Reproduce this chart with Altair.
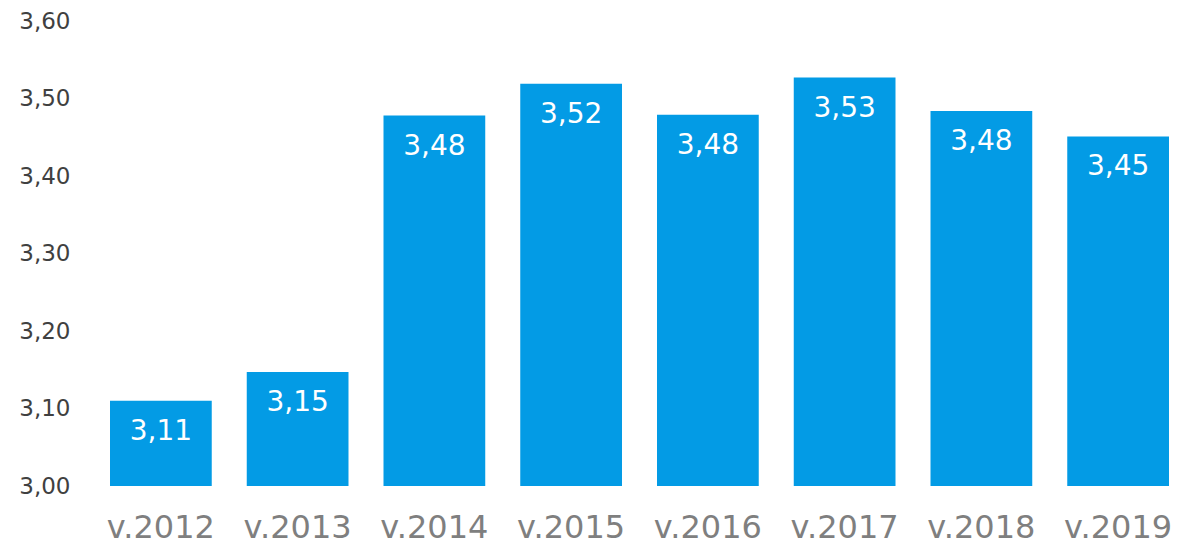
import altair as alt
import pandas as pd

years = ["v.2012", "v.2013", "v.2014", "v.2015", "v.2016", "v.2017", "v.2018", "v.2019"]
values = [3.11, 3.147, 3.478, 3.519, 3.479, 3.527, 3.484, 3.451]
labels = [f"{v:.2f}".replace(".", ",") for v in values]

df = pd.DataFrame({"year": years, "value": values, "label": labels})

FONT = "DejaVu Sans"

x = alt.X("year:N", sort=years, title=None,
          scale=alt.Scale(paddingInner=0.256, paddingOuter=0),
          axis=alt.Axis(labelAngle=0, labelFontSize=32, labelColor="#7f7f7f", labelFont=FONT,
                        labelPadding=26, labelBaseline="top", domain=False, ticks=False, grid=False))
y = alt.Y("value:Q", title=None,
          scale=alt.Scale(domain=[3.0, 3.6], zero=False, nice=False),
          axis=alt.Axis(values=[3.0, 3.1, 3.2, 3.3, 3.4, 3.5, 3.6],
                        labelExpr="replace(format(datum.value, '.2f'), '.', ',')",
                        labelFontSize=23, labelColor="#404040", labelFont=FONT,
                        labelPadding=40, domain=False, ticks=False, grid=False))

bars = alt.Chart(df).mark_bar(color="#039BE5", clip=True).encode(x=x, y=y)
text = alt.Chart(df).mark_text(color="white", fontSize=28, font=FONT, baseline="middle", dy=31).encode(
    x=alt.X("year:N", sort=years), y="value:Q", text="label:N")

chart = (bars + text).properties(
    width=1059, height=465,
    autosize=alt.AutoSizeParams(type="none"),
    padding={"left": 102, "top": 13, "right": 4, "bottom": 60},
).configure(background="white", view=alt.ViewConfig(stroke=None, strokeWidth=0))

chart.save("out.html", embed_options={"renderer": "svg", "actions": False})
